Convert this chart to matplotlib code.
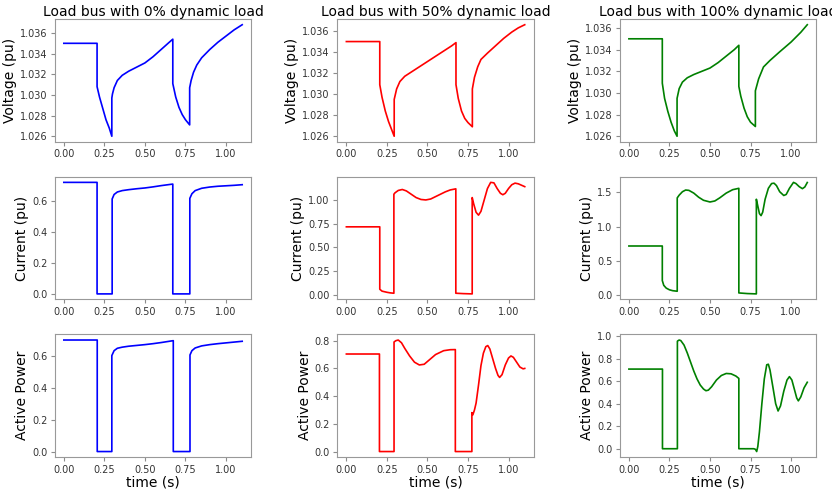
import matplotlib
matplotlib.use('Agg')
import matplotlib.pyplot as plt

# Load bus response to two faults (0.2-0.3 s and 0.68-0.78 s)

# --- Voltage (pu) ---
t_v0 = [0, 0.205, 0.205, 0.22, 0.24, 0.26, 0.28, 0.296, 0.296, 0.30, 0.31, 0.33, 0.36, 0.40, 0.45,
        0.50, 0.55, 0.60, 0.65, 0.672, 0.672, 0.69, 0.71, 0.73, 0.75, 0.776, 0.776, 0.785, 0.80,
        0.82, 0.85, 0.90, 0.95, 1.00, 1.05, 1.10]
v0 = [1.0350, 1.0350, 1.0308, 1.0298, 1.0287, 1.0276, 1.0268, 1.0260, 1.0297, 1.0301, 1.0307,
      1.0314, 1.0319, 1.0323, 1.0327, 1.0331, 1.0337, 1.0344, 1.0351, 1.0354, 1.0311, 1.0298,
      1.0288, 1.0281, 1.0276, 1.0271, 1.0307, 1.0314, 1.0322, 1.0329, 1.0336, 1.0344, 1.0351,
      1.0357, 1.0363, 1.0368]

t_v50 = [0, 0.206, 0.206, 0.22, 0.24, 0.26, 0.28, 0.295, 0.295, 0.31, 0.33, 0.36, 0.40, 0.45, 0.50,
         0.55, 0.60, 0.65, 0.676, 0.676, 0.69, 0.71, 0.73, 0.75, 0.777, 0.777, 0.79, 0.81, 0.83,
         0.87, 0.92, 0.97, 1.02, 1.06, 1.10]
v50 = [1.0350, 1.0350, 1.0309, 1.0297, 1.0284, 1.0274, 1.0266, 1.0260, 1.0295, 1.0305, 1.0312,
       1.0317, 1.0321, 1.0326, 1.0331, 1.0336, 1.0341, 1.0346, 1.0349, 1.0309, 1.0296, 1.0284,
       1.0277, 1.0273, 1.0269, 1.0305, 1.0316, 1.0326, 1.0333, 1.0339, 1.0346, 1.0353, 1.0359,
       1.0363, 1.0366]

t_v100 = [0, 0.206, 0.206, 0.22, 0.24, 0.26, 0.28, 0.297, 0.297, 0.31, 0.33, 0.36, 0.40, 0.45, 0.50,
          0.55, 0.60, 0.65, 0.678, 0.678, 0.69, 0.71, 0.73, 0.75, 0.78, 0.78, 0.80, 0.83, 0.87,
          0.93, 1.00, 1.06, 1.10]
v100 = [1.0350, 1.0350, 1.0309, 1.0295, 1.0283, 1.0273, 1.0265, 1.0260, 1.0295, 1.0304, 1.0310,
        1.0314, 1.0317, 1.0320, 1.0323, 1.0328, 1.0334, 1.0340, 1.0344, 1.0306, 1.0297, 1.0286,
        1.0278, 1.0273, 1.0269, 1.0302, 1.0313, 1.0324, 1.0330, 1.0338, 1.0347, 1.0356, 1.0363]

# --- Current (pu) ---
t_i0 = [0, 0.205, 0.205, 0.298, 0.298, 0.31, 0.33, 0.36, 0.40, 0.45, 0.50, 0.55, 0.60, 0.65, 0.672,
        0.672, 0.777, 0.777, 0.79, 0.81, 0.85, 0.90, 0.95, 1.00, 1.05, 1.10]
i0 = [0.718, 0.718, 0.0, 0.0, 0.611, 0.640, 0.656, 0.665, 0.671, 0.677, 0.682, 0.689, 0.697, 0.704,
      0.707, 0.0, 0.0, 0.615, 0.645, 0.665, 0.680, 0.688, 0.693, 0.696, 0.699, 0.703]

t_i50 = [0, 0.206, 0.206, 0.22, 0.25, 0.27, 0.293, 0.293, 0.30, 0.32, 0.345, 0.37, 0.40, 0.43, 0.46,
         0.49, 0.52, 0.55, 0.58, 0.61, 0.64, 0.675, 0.675, 0.72, 0.776, 0.776, 0.785, 0.80, 0.815,
         0.83, 0.85, 0.87, 0.89, 0.91, 0.93, 0.95, 0.965, 0.98, 1.00, 1.02, 1.04, 1.06, 1.08, 1.10]
i50 = [0.717, 0.717, 0.06, 0.04, 0.028, 0.022, 0.018, 1.06, 1.075, 1.10, 1.11, 1.095, 1.06, 1.025,
       1.005, 1.0, 1.01, 1.035, 1.06, 1.085, 1.105, 1.117, 0.018, 0.014, 0.011, 1.025, 0.96, 0.87,
       0.84, 0.88, 1.00, 1.12, 1.185, 1.18, 1.12, 1.07, 1.055, 1.07, 1.12, 1.16, 1.177, 1.17, 1.155,
       1.14]

t_i100 = [0, 0.206, 0.206, 0.215, 0.23, 0.25, 0.27, 0.298, 0.298, 0.31, 0.33, 0.35, 0.37, 0.40, 0.43,
          0.46, 0.50, 0.53, 0.56, 0.60, 0.64, 0.678, 0.678, 0.73, 0.786, 0.786, 0.795, 0.805, 0.815,
          0.825, 0.84, 0.86, 0.88, 0.895, 0.91, 0.93, 0.955, 0.97, 0.99, 1.015, 1.03, 1.05, 1.07,
          1.085, 1.10]
i100 = [0.716, 0.716, 0.21, 0.14, 0.10, 0.075, 0.062, 0.054, 1.42, 1.46, 1.51, 1.535, 1.53, 1.49,
        1.43, 1.385, 1.36, 1.375, 1.42, 1.49, 1.54, 1.56, 0.029, 0.02, 0.015, 1.40, 1.30, 1.19, 1.16,
        1.21, 1.40, 1.56, 1.63, 1.635, 1.60, 1.51, 1.455, 1.47, 1.56, 1.647, 1.63, 1.585, 1.555,
        1.58, 1.645]

# --- Active power ---
t_p0 = [0, 0.206, 0.206, 0.296, 0.296, 0.31, 0.33, 0.36, 0.40, 0.45, 0.50, 0.55, 0.60, 0.65, 0.675,
        0.675, 0.778, 0.778, 0.79, 0.81, 0.85, 0.90, 0.95, 1.00, 1.05, 1.10]
p0 = [0.702, 0.702, 0.0, 0.0, 0.604, 0.635, 0.650, 0.657, 0.663, 0.668, 0.673, 0.679, 0.686, 0.694,
      0.698, 0.0, 0.0, 0.608, 0.635, 0.652, 0.665, 0.673, 0.679, 0.684, 0.689, 0.694]

t_p50 = [0, 0.204, 0.204, 0.294, 0.294, 0.305, 0.32, 0.34, 0.36, 0.39, 0.42, 0.45, 0.48, 0.51, 0.55,
         0.60, 0.64, 0.672, 0.672, 0.774, 0.774, 0.78, 0.79, 0.80, 0.815, 0.83, 0.845, 0.86, 0.872,
         0.885, 0.90, 0.92, 0.935, 0.945, 0.96, 0.98, 1.00, 1.015, 1.03, 1.05, 1.07, 1.09, 1.10]
p50 = [0.704, 0.704, 0.0, 0.0, 0.791, 0.80, 0.805, 0.785, 0.745, 0.69, 0.645, 0.625, 0.63, 0.66,
       0.70, 0.728, 0.735, 0.736, 0.0, 0.0, 0.281, 0.265, 0.30, 0.35, 0.48, 0.62, 0.71, 0.757, 0.765,
       0.74, 0.68, 0.60, 0.55, 0.535, 0.555, 0.625, 0.675, 0.69, 0.68, 0.645, 0.61, 0.597, 0.60]

t_p100 = [0, 0.207, 0.207, 0.299, 0.299, 0.31, 0.32, 0.34, 0.36, 0.38, 0.40, 0.42, 0.44, 0.46, 0.475,
          0.49, 0.51, 0.54, 0.57, 0.60, 0.63, 0.66, 0.678, 0.678, 0.77, 0.78, 0.788, 0.795, 0.805,
          0.82, 0.835, 0.85, 0.86, 0.87, 0.89, 0.905, 0.92, 0.935, 0.955, 0.975, 0.99, 1.005, 1.02,
          1.035, 1.045, 1.06, 1.08, 1.10]
p100 = [0.707, 0.707, 0.0, 0.0, 0.955, 0.965, 0.96, 0.92, 0.85, 0.77, 0.69, 0.62, 0.565, 0.53, 0.515,
        0.52, 0.55, 0.61, 0.65, 0.668, 0.665, 0.645, 0.624, 0.0, 0.0, -0.005, -0.025, 0.02, 0.15,
        0.40, 0.62, 0.745, 0.75, 0.70, 0.53, 0.40, 0.335, 0.38, 0.51, 0.61, 0.64, 0.61, 0.53, 0.45,
        0.425, 0.46, 0.54, 0.59]

titles = ['Load bus with 0% dynamic load', 'Load bus with 50% dynamic load',
          'Load bus with 100% dynamic load']
ylabels = ['Voltage (pu)', 'Current (pu)', 'Active Power']
colors = ['b', 'r', 'g']

data = [
    [(t_v0, v0), (t_v50, v50), (t_v100, v100)],
    [(t_i0, i0), (t_i50, i50), (t_i100, i100)],
    [(t_p0, p0), (t_p50, p50), (t_p100, p100)],
]

fig, axes = plt.subplots(3, 3, figsize=(8.32, 4.91), dpi=100)
plt.subplots_adjust(left=0.066, right=0.981, top=0.961, bottom=0.069, wspace=0.44, hspace=0.285)

for r in range(3):
    for c in range(3):
        ax = axes[r][c]
        t, y = data[r][c]
        ax.plot(t, y, color=colors[c], lw=1.2)
        ax.set_xticks([0, 0.25, 0.5, 0.75, 1.0])
        ax.tick_params(labelsize=7, colors='0.55', labelcolor='0.2', length=3, width=0.8, pad=2.5)
        for s in ax.spines.values():
            s.set_color('0.6')
        ax.set_ylabel(ylabels[r], fontsize=10, labelpad=2)
        if r == 0:
            ax.set_title(titles[c], fontsize=10, pad=2)
        if r == 2:
            ax.set_xlabel('time (s)', fontsize=10, labelpad=0.5)

fig.savefig('out.png')
